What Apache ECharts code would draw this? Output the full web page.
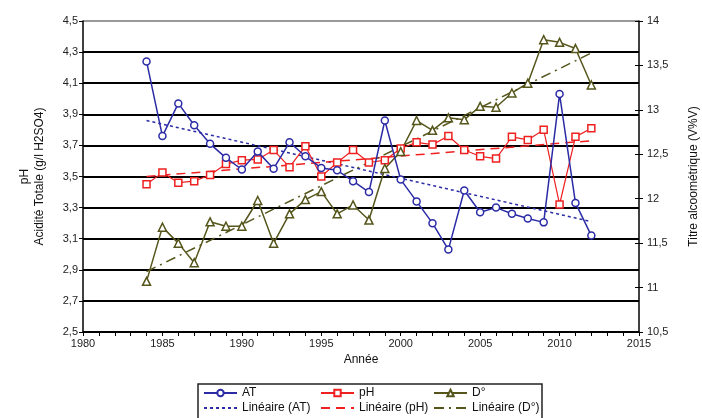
<!DOCTYPE html>
<html><head><meta charset="utf-8">
<script src="https://cdn.jsdelivr.net/npm/echarts@6/dist/echarts.min.js"></script>
<style>html,body{margin:0;padding:0;background:#fff}#c{width:702px;height:418px}</style>
</head><body><div id="c"></div>
<script>
const years = [1984,1985,1986,1987,1988,1989,1990,1991,1992,1993,1994,1995,1996,1997,1998,1999,2000,2001,2002,2003,2004,2005,2006,2007,2008,2009,2010,2011,2012];
const atValues = [4.24,3.76,3.97,3.83,3.71,3.62,3.545,3.66,3.55,3.72,3.63,3.555,3.54,3.47,3.40,3.86,3.48,3.34,3.20,3.03,3.41,3.27,3.30,3.26,3.23,3.205,4.03,3.33,3.12];
const phValues = [3.45,3.525,3.46,3.47,3.51,3.58,3.605,3.61,3.67,3.56,3.695,3.50,3.59,3.67,3.59,3.605,3.68,3.72,3.705,3.76,3.67,3.63,3.615,3.755,3.735,3.80,3.32,3.755,3.81];
const degValues = [11.07,11.68,11.50,11.28,11.74,11.69,11.69,11.98,11.50,11.83,11.99,12.08,11.83,11.93,11.76,12.34,12.53,12.88,12.77,12.91,12.89,13.04,13.03,13.19,13.30,13.79,13.76,13.69,13.28];
const trendYears = [1984,2012];
const atTrend = [3.86,3.21];
const phTrend = [3.50,3.73];
const degTrend = [11.18,13.64];

const pairs = (xs, ys) => xs.map((x,i)=>[x, ys[i]]);
const BLUE='#2b2ba6', RED='#ee2020', OLIVE='#55551c';
const FONT='Liberation Sans';

const chart = echarts.init(document.getElementById('c'));
const legendBase = {itemWidth:33,itemHeight:8,itemGap:4,textStyle:{fontSize:12,fontFamily:FONT,color:'#111'},padding:0};
const mkLegend=(name,left,top,hideMarker)=>{
  const l=Object.assign({},legendBase,{data:[name],left:left,top:top});
  if(hideMarker) l.itemStyle={opacity:0};
  return l;
};
chart.setOption({
  animation:false,
  textStyle:{fontFamily:FONT},
  grid:{left:83,right:63,top:21,bottom:86,containLabel:false,outerBoundsMode:'none'},
  graphic:[{type:'rect',shape:{x:198,y:384,width:344,height:40},style:{fill:'none',stroke:'#222',lineWidth:1.5}}],
  legend:[
    mkLegend('AT',203,387), mkLegend('pH',320,387), mkLegend('D°',433,387),
    mkLegend('Linéaire (AT)',203,402,true), mkLegend('Linéaire (pH)',320,402,true), mkLegend('Linéaire (D°)',433,402,true)
  ],
  xAxis:{type:'value',min:1980,max:2015,interval:5,
    name:'Année',nameLocation:'middle',nameGap:17,nameTextStyle:{fontSize:12,color:'#111'},
    axisLine:{lineStyle:{color:'#000',width:1.5}},
    axisTick:{show:true,length:4,lineStyle:{color:'#000'}},
    minorTick:{show:true,splitNumber:5,length:4,lineStyle:{color:'#000'}},
    axisLabel:{fontSize:11,color:'#222',margin:6,formatter:v=>String(v)},
    splitLine:{show:false}},
  yAxis:[
    {type:'value',min:2.5,max:4.5,interval:0.2,position:'left',
     name:'pH\nAcidité Totale (g/l H2SO4)',nameLocation:'middle',nameGap:36,nameRotate:90,
     nameTextStyle:{fontSize:12,color:'#111',lineHeight:15},
     axisLine:{show:true,lineStyle:{color:'#000',width:1.5}},
     axisTick:{show:true,length:4,lineStyle:{color:'#000'}},
     axisLabel:{fontSize:11,color:'#222',margin:5,formatter:v=>v.toFixed(1).replace('.',',')},
     splitLine:{show:true,lineStyle:{color:['#000','#000','#000','#000','#000','#000','#000','#000','#000','#000','#999'],width:2}}},
    {type:'value',min:10.5,max:14,interval:0.5,position:'right',
     name:'Titre alcoométrique (V%V)',nameLocation:'middle',nameGap:49,nameRotate:90,
     nameTextStyle:{fontSize:12,color:'#111'},
     axisLine:{show:true,lineStyle:{color:'#000',width:1.5}},
     axisTick:{show:true,length:4,lineStyle:{color:'#000'}},
     axisLabel:{fontSize:11,color:'#222',margin:8,formatter:v=>String(v).replace('.',',')},
     splitLine:{show:false}},
    {type:'value',min:10.5,max:14,interval:0.5,position:'right',
     axisLine:{show:false},axisTick:{show:true,inside:true,length:4,lineStyle:{color:'#000'}},
     axisLabel:{show:false},splitLine:{show:false}}
  ],
  series:[
    {name:'AT',type:'line',yAxisIndex:0,data:pairs(years,atValues),symbol:'circle',symbolSize:7,
     lineStyle:{color:BLUE,width:1.5},itemStyle:{color:'#fff',borderColor:BLUE,borderWidth:1.5},color:BLUE,z:4},
    {name:'pH',type:'line',yAxisIndex:0,data:pairs(years,phValues),symbol:'rect',symbolSize:7,
     lineStyle:{color:RED,width:1.2},itemStyle:{color:'#fff',borderColor:RED,borderWidth:1.5},color:RED,z:3},
    {name:'D°',type:'line',yAxisIndex:1,data:pairs(years,degValues),symbol:'triangle',symbolSize:8,
     lineStyle:{color:OLIVE,width:1.5},itemStyle:{color:'#fff',borderColor:OLIVE,borderWidth:1.5},color:OLIVE,z:3},
    {name:'Linéaire (AT)',type:'line',yAxisIndex:0,data:pairs(trendYears,atTrend),symbol:'none',
     lineStyle:{color:BLUE,width:1.5,type:[3,3]},color:BLUE,z:2},
    {name:'Linéaire (pH)',type:'line',yAxisIndex:0,data:pairs(trendYears,phTrend),symbol:'none',
     lineStyle:{color:RED,width:1.5,type:[9,6]},color:RED,z:2},
    {name:'Linéaire (D°)',type:'line',yAxisIndex:1,data:pairs(trendYears,degTrend),symbol:'none',
     lineStyle:{color:OLIVE,width:1.5,type:[10,5,2,5]},color:OLIVE,z:2}
  ]
});
</script></body></html>
